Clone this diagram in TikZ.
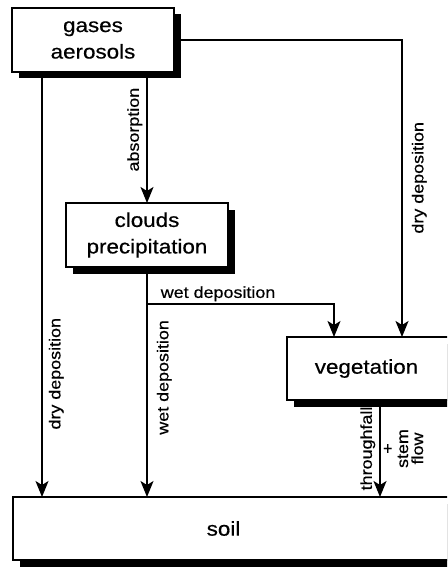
\documentclass[tikz,border=0pt]{standalone}
\usepackage{fontspec}
\setmainfont{Liberation Sans}[FakeStretch=1.12, FakeBold=0.5]
\usetikzlibrary{arrows.meta,shadows}
\begin{document}
\begin{tikzpicture}[x=1pt,y=-1pt,
  bigfont/.style={font=\fontsize{20}{26.5}\selectfont},
  box/.style={draw, line width=2pt, fill=white, inner sep=0pt, outer sep=0pt,
    align=center, bigfont,
    general shadow={fill=black, shadow xshift=6.5pt, shadow yshift=-6.5pt}},
  arr/.style={line width=1.6pt, -{Stealth[length=16pt,width=13pt,inset=4pt]}},
  lbl/.style={font=\fontsize{16}{15}\selectfont, inner sep=3pt},
  vlbl/.style={lbl, rotate=90}]
\useasboundingbox (0,0) rectangle (447,567);
\clip (0,0) rectangle (447,567);
\fill[white] (0,0) rectangle (447,567);

\node[box, minimum width=162pt, minimum height=64pt] (gases) at (93,40) {gases\\aerosols};
\node[box, minimum width=162pt, minimum height=64pt] (clouds) at (147,235) {clouds\\precipitation};
\node[box, minimum width=183pt, minimum height=63pt,
  label={[bigfont, xshift=-12pt]center:vegetation}] (veg) at (378.5,368.5) {};
\node[box, minimum width=467pt, minimum height=63pt,
  label={[bigfont, xshift=-23pt]center:soil}] (soil) at (246.5,528.5) {};

% dry deposition to soil
\draw[arr] ([xshift=-51pt]gases.south) -- ([xshift=-51pt]gases.south |- soil.north)
  node[vlbl, pos=0.71, anchor=north, inner sep=6pt] {dry deposition};
% absorption
\draw[arr] (gases.south -| clouds.north) -- (clouds.north)
  node[vlbl, pos=0.44, anchor=south, inner sep=4pt] {absorption};
% dry deposition to vegetation
\draw[arr] (gases.east) -| ([xshift=23.5pt]veg.north)
  node[vlbl, pos=0.732, anchor=north, inner sep=9pt] {dry deposition};
% wet deposition to soil
\draw[arr] (clouds.south) -- (clouds.south |- soil.north)
  node[vlbl, pos=0.48, anchor=north, inner sep=9pt] {wet deposition};
% wet deposition to vegetation
\coordinate (wb) at ([yshift=-37pt]clouds.south);
\draw[arr] (wb) -| ([xshift=-44.5pt]veg.north)
  node[lbl, pos=0.19, anchor=south, inner sep=2pt] {wet deposition};
% throughfall + stem flow
\draw[arr] ([xshift=1.5pt]veg.south) -- ([xshift=1.5pt]veg.south |- soil.north)
  node[vlbl, midway, anchor=south, inner sep=4pt] {throughfall}
  node[vlbl, midway, anchor=north, inner sep=3pt, align=center] {+\\stem\\flow};
\end{tikzpicture}
\end{document}
